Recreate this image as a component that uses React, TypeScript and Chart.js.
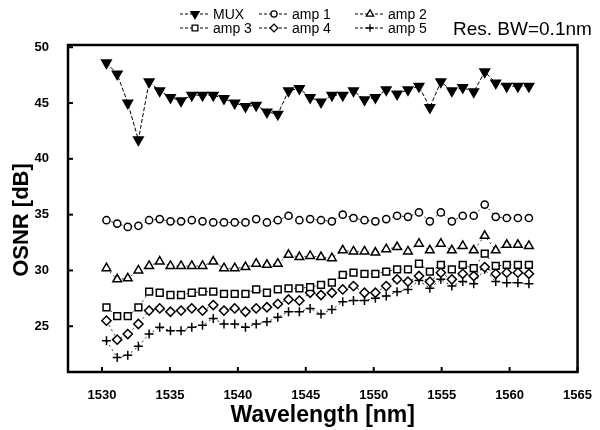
import React, { useEffect, useRef } from 'react';
import { Chart, registerables } from 'chart.js';
import { drawPoint } from 'chart.js/helpers';

Chart.register(...registerables);

const FONT = "'Liberation Sans', Arial, Helvetica, sans-serif";

// ITU 100 GHz grid channels (nm)
const wavelengths = [
  1530.33, 1531.12, 1531.9, 1532.68, 1533.47, 1534.25, 1535.04, 1535.82, 1536.61, 1537.4,
  1538.19, 1538.98, 1539.77, 1540.56, 1541.35, 1542.14, 1542.94, 1543.73, 1544.53, 1545.32,
  1546.12, 1546.92, 1547.72, 1548.51, 1549.32, 1550.12, 1550.92, 1551.72, 1552.52, 1553.33,
  1554.13, 1554.94, 1555.75, 1556.55, 1557.36, 1558.17, 1558.98, 1559.79, 1560.61, 1561.42,
];

const seriesNames = ['MUX', 'amp 1', 'amp 2', 'amp 3', 'amp 4', 'amp 5'];

const mux = [
  48.6, 47.6, 45.0, 41.7, 46.9, 46.1, 45.5, 45.2, 45.7, 45.7,
  45.7, 45.4, 45.0, 44.7, 44.8, 44.2, 44.0, 46.1, 46.3, 45.5,
  45.1, 45.7, 45.7, 46.1, 45.3, 45.5, 46.2, 45.8, 46.2, 46.5,
  44.6, 46.9, 46.1, 46.4, 46.0, 47.8, 46.8, 46.5, 46.5, 46.5,
];
const amp1 = [
  34.5, 34.2, 33.9, 34.0, 34.5, 34.6, 34.4, 34.4, 34.5, 34.4,
  34.3, 34.3, 34.3, 34.3, 34.6, 34.3, 34.5, 34.9, 34.5, 34.6,
  34.5, 34.4, 35.0, 34.7, 34.5, 34.4, 34.6, 34.9, 34.8, 35.2,
  34.4, 35.2, 34.4, 34.9, 34.9, 35.9, 34.8, 34.7, 34.7, 34.7,
];
const amp2 = [
  30.2, 29.2, 29.3, 30.0, 30.4, 30.8, 30.4, 30.4, 30.4, 30.4,
  30.8, 30.2, 30.2, 30.3, 30.6, 30.5, 30.6, 31.4, 31.2, 31.3,
  31.2, 31.1, 31.8, 31.7, 31.7, 31.6, 31.9, 32.1, 31.7, 32.4,
  31.8, 32.4, 31.8, 32.2, 31.8, 33.1, 31.8, 32.3, 32.3, 32.2,
];
const amp3 = [
  26.7, 25.9, 25.9, 26.7, 28.1, 28.0, 27.8, 27.8, 28.0, 28.1,
  28.1, 27.9, 27.9, 27.9, 28.3, 28.0, 28.3, 28.4, 28.4, 28.5,
  28.7, 28.9, 29.6, 29.8, 29.7, 29.7, 29.9, 30.1, 30.1, 30.6,
  29.9, 30.5, 30.1, 30.5, 30.2, 31.5, 30.4, 30.5, 30.5, 30.5,
];
const amp4 = [
  25.5, 23.8, 24.3, 25.2, 26.4, 26.6, 26.3, 26.4, 26.6, 26.4,
  26.9, 26.4, 26.6, 26.3, 26.6, 26.7, 27.0, 27.4, 27.3, 28.0,
  27.8, 28.0, 28.3, 28.6, 28.0, 28.0, 28.6, 29.2, 29.0, 29.5,
  29.0, 29.8, 29.2, 29.7, 29.5, 30.3, 29.7, 29.8, 29.8, 29.7,
];
const amp5 = [
  23.7, 22.2, 22.4, 23.2, 24.3, 24.9, 24.6, 24.6, 24.9, 25.1,
  25.7, 25.2, 25.2, 24.9, 25.2, 25.4, 25.8, 26.3, 26.3, 26.6,
  26.1, 26.5, 27.2, 27.3, 27.3, 27.5, 27.7, 28.1, 28.3, 29.1,
  28.4, 29.2, 28.6, 29.0, 28.8, 30.1, 29.0, 28.9, 28.9, 28.8,
];
const seriesValues = [mux, amp1, amp2, amp3, amp4, amp5];

const xTicks = [1530, 1535, 1540, 1545, 1550, 1555, 1560, 1565];
const yTicks = [25, 30, 35, 40, 45, 50];
const noteText = 'Res. BW=0.1nm';
const xTitle = 'Wavelength [nm]';
const yTitle = 'OSNR [dB]';

const markerStyles = [
  { pointStyle: 'triangle', rotation: 180, radius: 5.5, fill: '#000', dash: [4, 2], width: 1 },
  { pointStyle: 'circle', rotation: 0, radius: 3.6, fill: '#fff', dash: [2, 3], width: 0.8 },
  { pointStyle: 'triangle', rotation: 0, radius: 5, fill: '#fff', dash: [2, 3], width: 0.8 },
  { pointStyle: 'rect', rotation: 0, radius: 4.8, fill: '#fff', dash: [2, 3], width: 0.8 },
  { pointStyle: 'rectRot', rotation: 0, radius: 4.6, fill: '#fff', dash: [2, 3], width: 0.8 },
  { pointStyle: 'cross', rotation: 0, radius: 4.5, fill: '#fff', dash: [2, 3], width: 0.8 },
];

const legendCols = [180, 259, 355];
const legendRows = [14, 28];

const decorPlugin = {
  id: 'decor',
  afterDraw(chart: any) {
    const { ctx, chartArea } = chart;
    const { left, right, top, bottom } = chartArea;
    ctx.save();
    // frame
    ctx.strokeStyle = '#000';
    ctx.lineWidth = 2.5;
    ctx.setLineDash([]);
    ctx.strokeRect(left, top, right - left, bottom - top);
    // inner ticks
    ctx.lineWidth = 2;
    const xs = chart.scales.x;
    const ys = chart.scales.y;
    xTicks.forEach((v) => {
      const px = xs.getPixelForValue(v);
      ctx.beginPath();
      ctx.moveTo(px, bottom);
      ctx.lineTo(px, bottom - 5);
      ctx.stroke();
    });
    yTicks.forEach((v) => {
      const py = ys.getPixelForValue(v);
      ctx.beginPath();
      ctx.moveTo(left, py);
      ctx.lineTo(left + 5, py);
      ctx.stroke();
    });
    // y title
    ctx.save();
    ctx.translate(22, 220);
    ctx.rotate(-Math.PI / 2);
    ctx.fillStyle = '#000';
    ctx.font = `bold 22px ${FONT}`;
    ctx.textAlign = 'center';
    ctx.textBaseline = 'middle';
    ctx.fillText(yTitle, 0, 0);
    ctx.restore();
    // legend
    chart.data.datasets.forEach((ds: any, i: number) => {
      const st = markerStyles[i];
      const x0 = legendCols[i % 3];
      const y0 = legendRows[Math.floor(i / 3)];
      ctx.strokeStyle = '#000';
      ctx.lineWidth = 1;
      ctx.setLineDash([3, 2]);
      ctx.beginPath();
      ctx.moveTo(x0, y0);
      ctx.lineTo(x0 + 30, y0);
      ctx.stroke();
      ctx.setLineDash([]);
      ctx.fillStyle = st.fill;
      ctx.lineWidth = 1.3;
      drawPoint(ctx, { pointStyle: st.pointStyle, rotation: st.rotation, radius: st.radius * 0.85, borderWidth: 1.3 } as any, x0 + 15, y0);
      ctx.fillStyle = '#000';
      ctx.font = `14px ${FONT}`;
      ctx.textAlign = 'left';
      ctx.textBaseline = 'middle';
      ctx.fillText(ds.label, x0 + 33, y0 + 1);
    });
    // note
    ctx.fillStyle = '#000';
    ctx.font = `19px ${FONT}`;
    ctx.textAlign = 'left';
    ctx.textBaseline = 'alphabetic';
    ctx.fillText(noteText, 453, 35);
    ctx.restore();
  },
};

export default function App() {
  const canvasRef = useRef<HTMLCanvasElement | null>(null);

  useEffect(() => {
    if (!canvasRef.current) return;
    const datasets = seriesNames.map((name, i) => {
      const st = markerStyles[i];
      return {
        label: name,
        data: wavelengths.map((w, j) => ({ x: w, y: seriesValues[i][j] })),
        borderColor: '#000',
        borderWidth: st.width,
        borderDash: st.dash,
        backgroundColor: st.fill,
        pointStyle: st.pointStyle,
        rotation: st.rotation,
        pointRadius: st.radius,
        pointBorderColor: '#000',
        pointBackgroundColor: st.fill,
        pointBorderWidth: 1.5,
        fill: false,
        tension: 0,
      };
    });
    const chart = new Chart(canvasRef.current, {
      type: 'line',
      data: { datasets } as any,
      options: {
        responsive: false,
        animation: false,
        layout: { padding: { top: 45, right: 21, left: 0, bottom: 0 } },
        plugins: { legend: { display: false }, tooltip: { enabled: false } },
        scales: {
          x: {
            type: 'linear',
            min: 1527.5,
            max: 1565,
            afterBuildTicks: (s: any) => {
              s.ticks = xTicks.map((v) => ({ value: v }));
            },
            afterFit: (s: any) => {
              s.height = 58;
            },
            grid: { display: false },
            border: { display: false },
            ticks: {
              autoSkip: false,
              maxRotation: 0,
              padding: 8,
              color: '#000',
              font: { family: FONT, size: 13, weight: 'bold' },
              callback: (v: any) => String(v),
            },
            title: {
              display: true,
              text: xTitle,
              color: '#000',
              font: { family: FONT, size: 23, weight: 'bold' },
              padding: { top: 0, bottom: 1 },
            },
          },
          y: {
            type: 'linear',
            min: 20.9,
            max: 50.2,
            afterBuildTicks: (s: any) => {
              s.ticks = yTicks.map((v) => ({ value: v }));
            },
            afterFit: (s: any) => {
              s.width = 68;
            },
            grid: { display: false },
            border: { display: false },
            ticks: {
              autoSkip: false,
              padding: 11,
              color: '#000',
              font: { family: FONT, size: 13, weight: 'bold' },
              callback: (v: any) => String(v),
            },
            title: { display: false },
          },
        },
      } as any,
      plugins: [decorPlugin],
    });
    return () => chart.destroy();
  }, []);

  return (
    <div style={{ position: 'fixed', left: 0, top: 0, width: 600, height: 430, background: '#fff' }}>
      <canvas ref={canvasRef} width={600} height={430} />
    </div>
  );
}
